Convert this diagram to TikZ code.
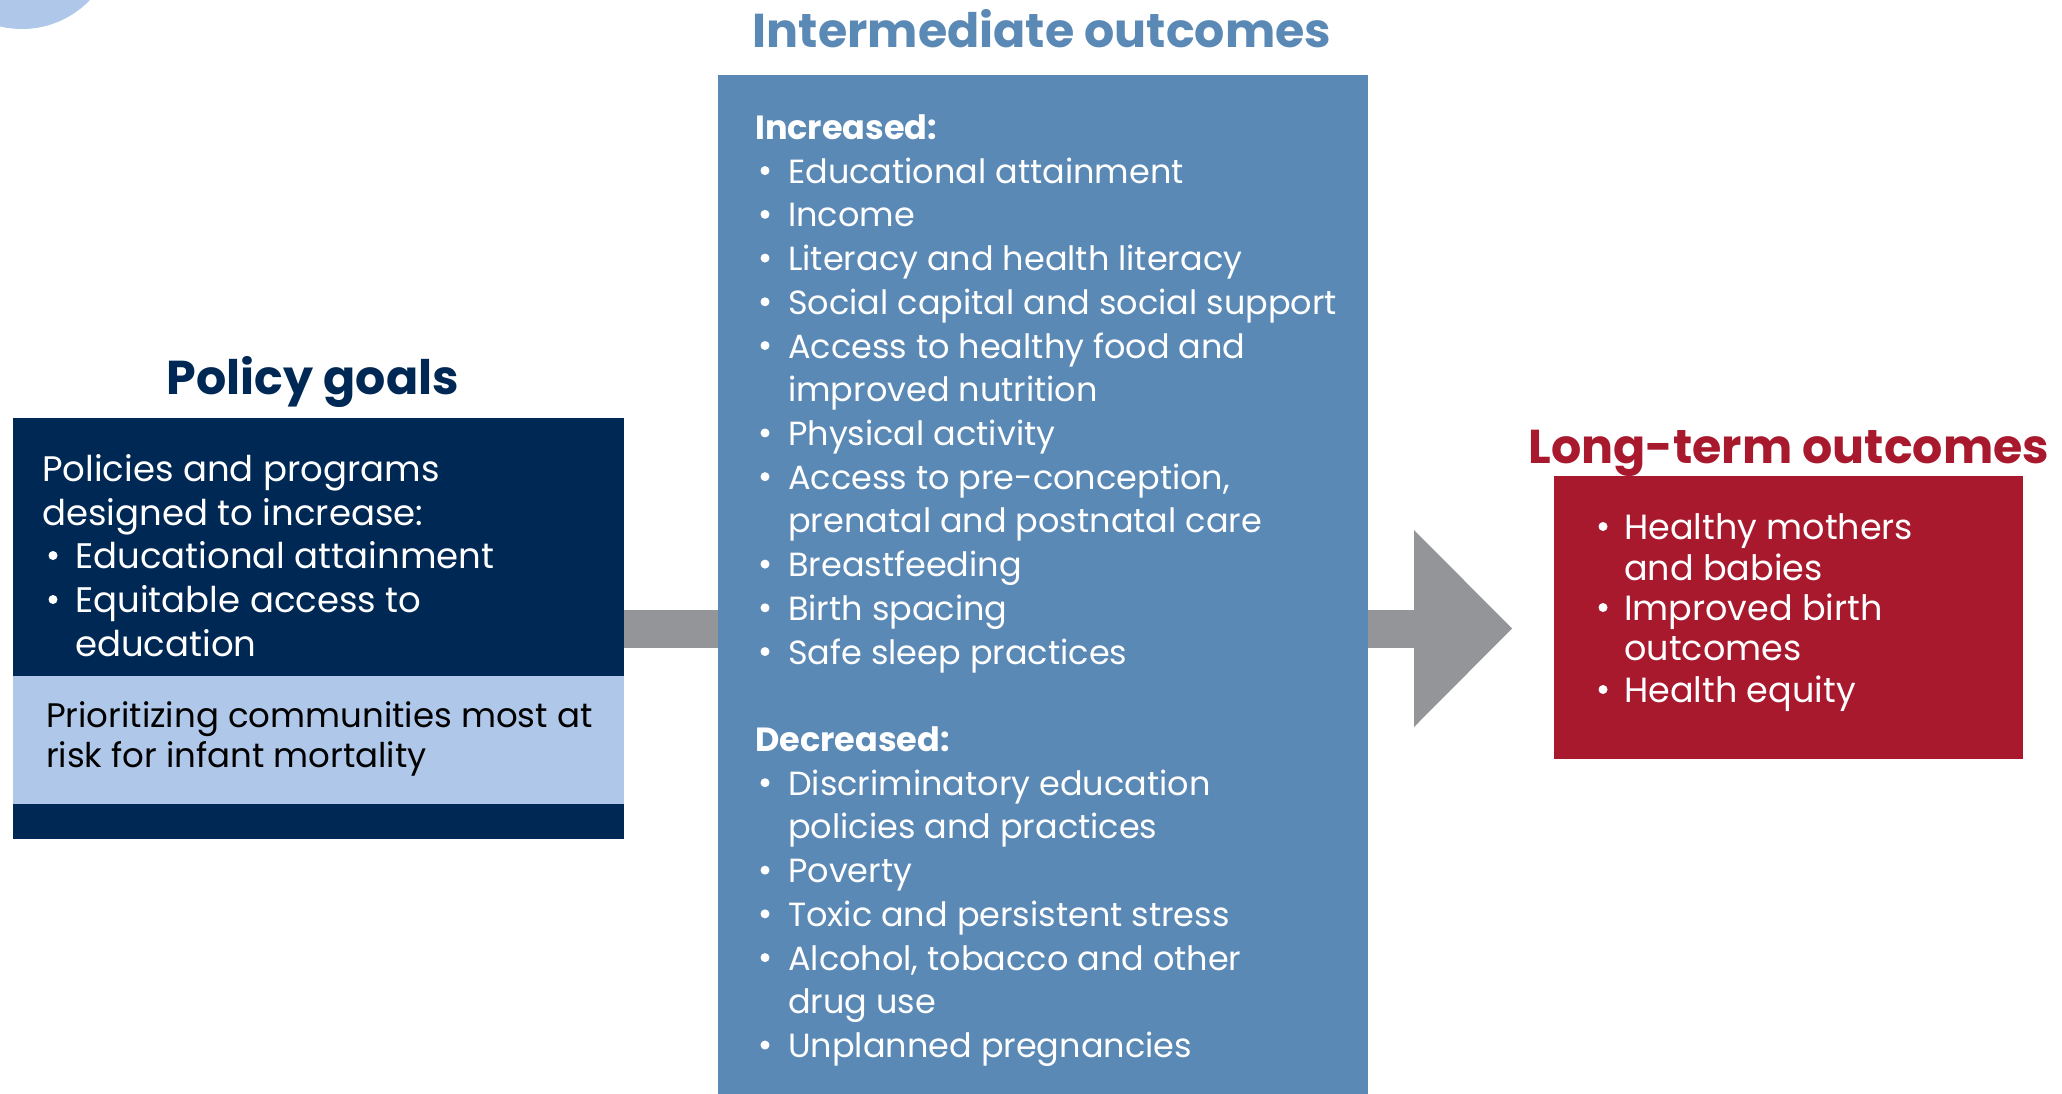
\documentclass[tikz,border=0pt]{standalone}
\usepackage{fontspec}
\setmainfont{Poppins}
\definecolor{navy}{HTML}{002855}
\definecolor{paleblue}{HTML}{AFC7E8}
\definecolor{steel}{HTML}{5B89B5}
\definecolor{crimson}{HTML}{A8192E}
\definecolor{arrowgrey}{HTML}{939598}
\begin{document}
\begin{tikzpicture}[x=1pt,y=-1pt,
  panel/.style={anchor=north west, inner sep=0pt, outer sep=0pt},
  titletext/.style={font=\fontsize{47.5}{54}\selectfont\bfseries, anchor=base, inner sep=0pt},
  bodytext/.style={font=\fontsize{33.5}{40}\selectfont, anchor=base west, inner sep=0pt},
  bul/.style={circle, fill=white, inner sep=0pt, minimum size=9pt, yshift=12.5pt}]
\useasboundingbox (0,0) rectangle (2062,1093);
% decorative circle
\fill[paleblue] (22,-65) circle (94);
% left panel
\node[panel, fill=navy, minimum width=611pt, minimum height=421pt] (goals) at (13,418) {};
\node[panel, fill=paleblue, minimum width=611pt, minimum height=128pt] (band) at (13,676) {};
% arrow
\coordinate (headbase) at (1414,628.5);
\coordinate (tip) at (1512,628.5);
\draw[arrowgrey, line width=38pt] (goals.east) -- (headbase);
\fill[arrowgrey] (1414,530) -- (tip) -- (1414,727) -- cycle;
% middle panel
\node[panel, fill=steel, minimum width=650pt, minimum height=1030pt] (mid) at (718,75) {};
% right panel
\node[panel, fill=crimson, minimum width=469pt, minimum height=283pt] (long) at (1554,476) {};
% titles
\node[titletext, text=navy] (goalsT) at (313,394) {Policy goals};
\node[titletext, text=steel] (midT) at (1042,47) {Intermediate outcomes};
\node[titletext, text=crimson] (longT) at (1789,463) {Long-term outcomes};
% left text
\begin{scope}[every node/.append style={text=white}, bodytext/.append style={font=\fontsize{35.5}{42}\selectfont}]
\node[bodytext] (g1) at (42,481) {Policies and programs};
\node[bodytext] (g2) at (42,525) {designed to increase:};
\node[bul] (gb1) at (53,568) {};
\node[bodytext] (g3) at (75,568) {Educational attainment};
\node[bul] (gb2) at (53,612) {};
\node[bodytext] (g4) at (75,612) {Equitable access to};
\node[bodytext] (g5) at (75,656) {education};
\end{scope}
\node[bodytext, text=black, font=\fontsize{34}{40}\selectfont] (p1) at (46,727) {Prioritizing communities most at};
\node[bodytext, text=black, font=\fontsize{34}{40}\selectfont] (p2) at (46,767) {risk for infant mortality};
% middle text
\begin{scope}[every node/.append style={text=white}]
\node[bodytext, font=\fontsize{33.5}{40}\selectfont\bfseries] (inc) at (755,139.4) {Increased:};
\foreach \i/\b/\t in {1/1/{Educational attainment},2/1/{Income},3/1/{Literacy and health literacy},
  4/1/{Social capital and social support},5/1/{Access to healthy food and},6/0/{improved nutrition},
  7/1/{Physical activity},8/1/{Access to pre-conception,},9/0/{prenatal and postnatal care},
  10/1/{Breastfeeding},11/1/{Birth spacing},12/1/{Safe sleep practices},
  15/1/{Discriminatory education},16/0/{policies and practices},17/1/{Poverty},
  18/1/{Toxic and persistent stress},19/1/{Alcohol, tobacco and other},20/0/{drug use},
  21/1/{Unplanned pregnancies}}{
  \node[bodytext] (m\i) at (788,139.4+43.72*\i) {\t};
  \ifnum\b=1 \node[bul] (mb\i) at (765,139.4+43.72*\i) {};\fi
}
\node[bodytext, font=\fontsize{33.5}{40}\selectfont\bfseries] (dec) at (755,139.4+43.72*14) {Decreased:};
% right text
\begin{scope}[bodytext/.append style={font=\fontsize{35}{42}\selectfont}]
\node[bul] (lb1) at (1603,539) {};
\node[bodytext] (l1) at (1624,539) {Healthy mothers};
\node[bodytext] (l2) at (1624,580) {and babies};
\node[bul] (lb2) at (1603,620) {};
\node[bodytext] (l3) at (1624,620) {Improved birth};
\node[bodytext] (l4) at (1624,660) {outcomes};
\node[bul] (lb3) at (1603,702) {};
\node[bodytext] (l5) at (1624,702) {Health equity};
\end{scope}
\end{scope}
\end{tikzpicture}
\end{document}
